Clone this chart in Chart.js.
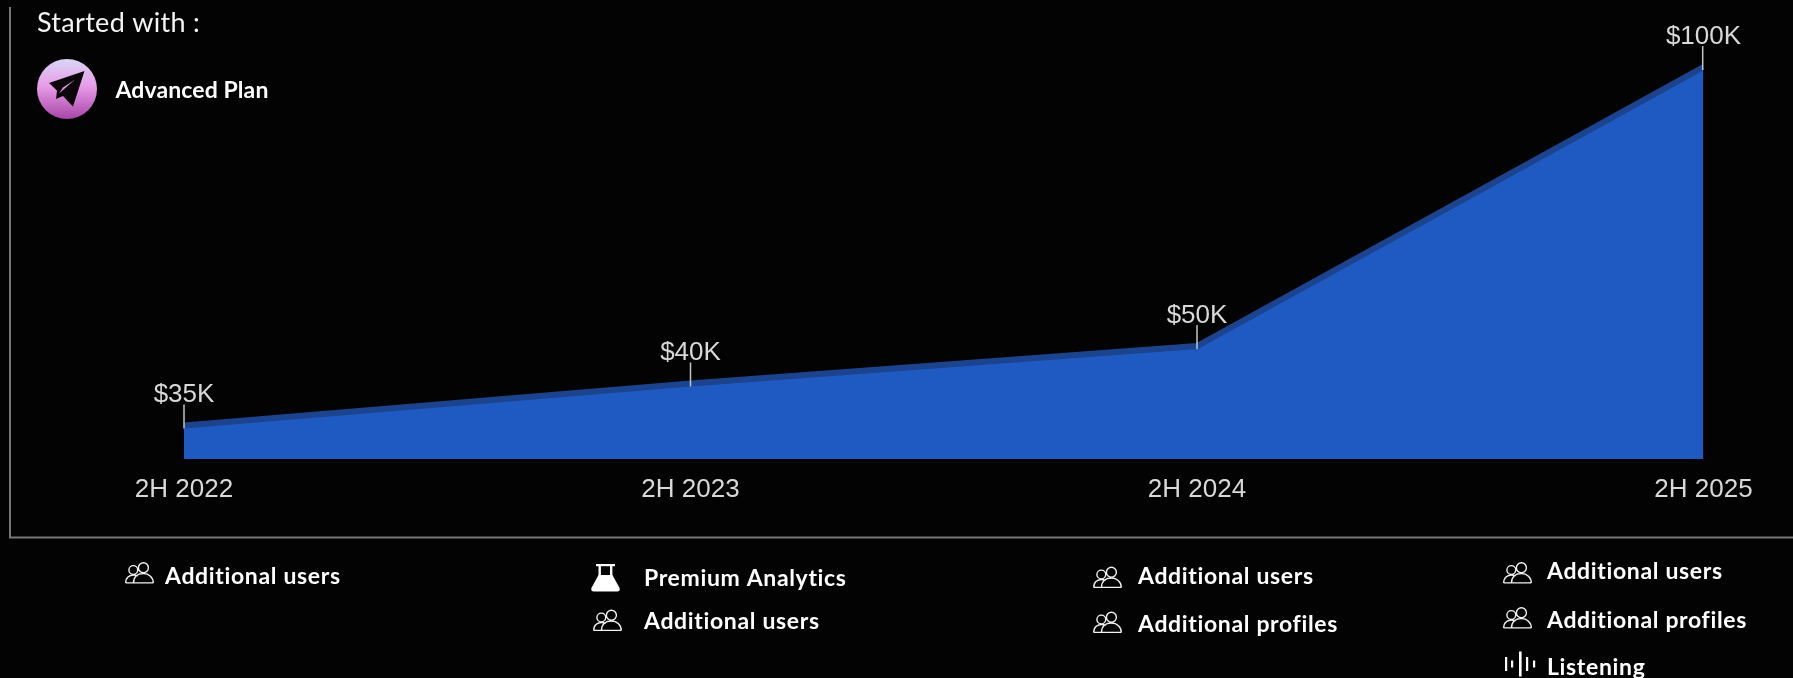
<!DOCTYPE html>
<html>
<head>
<meta charset="utf-8">
<title>Pricing by half year</title>
<script src="https://cdn.jsdelivr.net/npm/chart.js@4/dist/chart.umd.js"></script>
<style>
  html, body { margin: 0; padding: 0; background: #030303; overflow: hidden; }
  canvas { display: block; }
</style>
</head>
<body>
<canvas id="priceChart" width="1793" height="678"></canvas>
<script>
// ===== DATA =====
const periods = ['2H 2022', '2H 2023', '2H 2024', '2H 2025'];
const prices = [35, 40, 50, 100];
const priceLabels = ['$35K', '$40K', '$50K', '$100K'];

const headingText = 'Started with :';
const planName = 'Advanced Plan';
const column1 = ['Additional users'];
const column2 = ['Premium Analytics', 'Additional users'];
const column3 = ['Additional users', 'Additional profiles'];
const column4 = ['Additional users', 'Additional profiles', 'Listening'];

// The price axis is illustrative, not to scale: each price stop has its own height
const axisStops = [30, 35, 40, 50, 100, 110];
const axisHeights = [0, 0.073, 0.1646, 0.246, 0.854, 1];

class StopScale extends Chart.LinearScale {
    static id = 'stops';
    static defaults = Chart.LinearScale.defaults;

    getPixelForValue(value) {
        let i = 0;
        while (i < axisStops.length - 2 && value > axisStops[i + 1]) i++;
        const t = (value - axisStops[i]) / (axisStops[i + 1] - axisStops[i]);
        const h = axisHeights[i] + t * (axisHeights[i + 1] - axisHeights[i]);
        return this.bottom - h * (this.bottom - this.top);
    }
}
Chart.register(StopScale);

const WHITE = '#ffffff';
const boldFont = '700 23px Lato, sans-serif';

// ===== ICONS =====
function drawUsers(ctx, x, y) {
    ctx.save();
    ctx.translate(x, y);
    ctx.strokeStyle = '#f2f2f2';
    ctx.lineWidth = 1.4;
    ctx.beginPath();
    ctx.arc(8.3, 7.5, 4.4, 0, Math.PI * 2);
    ctx.moveTo(23.4, 5.2);
    ctx.arc(18.4, 5.2, 5, 0, Math.PI * 2);
    // shoulders, left one tucked behind the right one
    ctx.moveTo(0.7, 20.4);
    ctx.bezierCurveTo(0.7, 14.5, 5, 12.5, 8.5, 12.5);
    ctx.bezierCurveTo(10, 12.5, 11.5, 13, 12.5, 13.6);
    ctx.moveTo(8.5, 20.4);
    ctx.bezierCurveTo(8.5, 14, 13, 11, 18.4, 11);
    ctx.bezierCurveTo(24, 11, 28.3, 15, 28.3, 20.4);
    ctx.moveTo(0.7, 20.4);
    ctx.lineTo(28.3, 20.4);
    ctx.stroke();
    ctx.restore();
}

function drawFlask(ctx, x, y) {
    ctx.save();
    ctx.translate(x, y);
    ctx.fillStyle = WHITE;
    ctx.fillRect(5, 0, 19, 2.2);
    ctx.fillRect(7.5, 0, 2.4, 12);
    ctx.fillRect(19, 0, 2.4, 12);
    ctx.beginPath();
    ctx.moveTo(7.5, 11);
    ctx.lineTo(21.4, 11);
    ctx.lineTo(28.6, 24);
    ctx.quadraticCurveTo(29.4, 27.5, 26, 27.5);
    ctx.lineTo(3, 27.5);
    ctx.quadraticCurveTo(-0.4, 27.5, 0.4, 24);
    ctx.closePath();
    ctx.fill();
    ctx.restore();
}

function drawBars(ctx, x, y) {
    const offsets = [0, 6, 14, 21, 28];
    const lengths = [14, 7, 25, 14, 7];
    ctx.fillStyle = WHITE;
    offsets.forEach((dx, i) => {
        ctx.fillRect(x + dx, y - lengths[i] / 2, i === 2 ? 2.6 : 2.2, lengths[i]);
    });
}

function drawPlanBadge(ctx, cx, cy, r) {
    const gradient = ctx.createLinearGradient(0, cy - r, 0, cy + r);
    gradient.addColorStop(0, '#d9d6f6');
    gradient.addColorStop(0.45, '#e89ce8');
    gradient.addColorStop(1, '#a746a8');
    ctx.fillStyle = gradient;
    ctx.beginPath();
    ctx.arc(cx, cy, r, 0, Math.PI * 2);
    ctx.fill();

    // paper plane
    ctx.fillStyle = '#0a060a';
    ctx.beginPath();
    ctx.moveTo(cx + 17.5, cy - 18);
    ctx.lineTo(cx - 18, cy - 6);
    ctx.lineTo(cx - 10, cy + 1.5);
    ctx.lineTo(cx - 11, cy + 10);
    ctx.lineTo(cx - 4, cy + 7);
    ctx.lineTo(cx + 6, cy + 17.5);
    ctx.closePath();
    ctx.fill();
    ctx.fillStyle = '#e79ae6';
    ctx.beginPath();
    ctx.moveTo(cx + 8, cy - 9.5);
    ctx.lineTo(cx - 8, cy + 4.5);
    ctx.lineTo(cx - 4, cy - 1.5);
    ctx.closePath();
    ctx.fill();
}

function drawFeature(ctx, text, x, baseline, spacing = '0.65px') {
    ctx.font = boldFont;
    ctx.letterSpacing = spacing;
    ctx.fillStyle = WHITE;
    ctx.textAlign = 'left';
    ctx.textBaseline = 'alphabetic';
    ctx.fillText(text, x, baseline);
    ctx.letterSpacing = '0px';
}

// ===== PLUGINS =====
// Price tag above each point, joined to the area by a short tick
const priceTags = {
    id: 'priceTags',
    afterDatasetsDraw(chart) {
        const ctx = chart.ctx;
        const points = chart.getDatasetMeta(0).data;
        ctx.save();
        points.forEach((point, i) => {
            ctx.strokeStyle = '#c4c4c4';
            ctx.lineWidth = 1.5;
            ctx.beginPath();
            ctx.moveTo(point.x - (i === 3 ? 0.8 : 0), point.y - 21);
            ctx.lineTo(point.x - (i === 3 ? 0.8 : 0), point.y + 3);
            ctx.stroke();

            ctx.font = '26px "Liberation Sans", sans-serif';
            ctx.fillStyle = '#d8d8d8';
            ctx.textAlign = 'center';
            ctx.textBaseline = 'alphabetic';
            ctx.fillText(priceLabels[i], point.x, point.y - 23);
        });
        ctx.restore();
    }
};

// Frame lines, plan heading and the feature lists under the chart
const extras = {
    id: 'extras',
    afterDraw(chart) {
        const ctx = chart.ctx;
        ctx.save();
        ctx.strokeStyle = '#767676';
        ctx.lineWidth = 2;
        ctx.beginPath();
        ctx.moveTo(10, 7);
        ctx.lineTo(10, 537.5);
        ctx.lineTo(1793, 537.5);
        ctx.stroke();

        ctx.font = '400 27px Lato, sans-serif';
        ctx.letterSpacing = '0.3px';
        ctx.fillStyle = '#f4f4f4';
        ctx.textAlign = 'left';
        ctx.fillText(headingText, 37, 32);
        ctx.letterSpacing = '0px';
        drawPlanBadge(ctx, 67, 89, 30);
        drawFeature(ctx, planName, 115.5, 98, '0.1px');

        drawUsers(ctx, 125, 562.5);
        drawFeature(ctx, column1[0], 165, 584);

        drawFlask(ctx, 591, 564);
        drawFeature(ctx, column2[0], 644, 586);
        drawUsers(ctx, 593, 610);
        drawFeature(ctx, column2[1], 644, 629);

        drawUsers(ctx, 1093, 567);
        drawFeature(ctx, column3[0], 1138, 584);
        drawUsers(ctx, 1093, 612);
        drawFeature(ctx, column3[1], 1138, 632);

        drawUsers(ctx, 1503, 562.5);
        drawFeature(ctx, column4[0], 1547, 579);
        drawUsers(ctx, 1503, 607.5);
        drawFeature(ctx, column4[1], 1547, 628);
        drawBars(ctx, 1505, 664);
        drawFeature(ctx, column4[2], 1547, 675);
        ctx.restore();
    }
};

// ===== CHART =====
new Chart(document.getElementById('priceChart'), {
    type: 'line',
    data: {
        labels: periods,
        datasets: [{
            data: prices,
            borderColor: '#1b438e',
            backgroundColor: '#1f5ac3',
            borderWidth: 6,
            fill: 'start',
            tension: 0,
            pointRadius: 0,
            clip: 0
        }]
    },
    options: {
        responsive: false,
        animation: false,
        layout: { padding: { left: 184, right: 89.5, top: 0, bottom: 0 } },
        plugins: {
            legend: { display: false },
            tooltip: { enabled: false }
        },
        scales: {
            x: {
                offset: false,
                afterFit: (scale) => { scale.height = 219; },
                border: { display: false },
                grid: { display: false, drawTicks: false },
                ticks: {
                    color: '#d8d8d8',
                    padding: 15,
                    maxRotation: 0,
                    autoSkip: false,
                    font: { family: '"Liberation Sans", sans-serif', size: 26 }
                }
            },
            y: {
                type: 'stops',
                display: false,
                min: axisStops[0],
                max: axisStops[axisStops.length - 1]
            }
        }
    },
    plugins: [priceTags, extras]
});
</script>
</body>
</html>
